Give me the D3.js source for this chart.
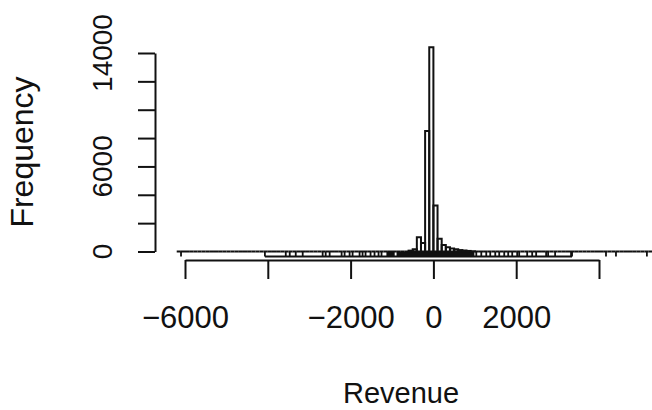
<!DOCTYPE html>
<html><head><meta charset="utf-8">
<script src="https://cdn.jsdelivr.net/npm/d3@7"></script>
<style>body{margin:0;background:#fff}svg{display:block}</style>
</head><body><svg id="c" width="652" height="410"></svg>
<script>
// histogram bin breaks (width 100) and non-zero bin counts
const breaks = d3.range(-6200, 5400, 100);
const binLowers = [-600, -500, -400, -300, -200, -100, 0, 100, 200, 300, 400, 500, 600, 700, 800, 900];
const binCounts = [60, 150, 1000, 600, 8500, 14400, 3250, 900, 450, 300, 220, 150, 100, 70, 40, 20];
// rug of individual revenue values (sparse tails)
const rugValues = [-6096, -4070, -3566, -3470, -3325, -3157, -2675, -2602, -2506, -2217, -2145, -2024, -1952,
  -1783, -1711, -1639, -1518, -1422, -1325, -1253, 1036, 1157, 1277, 1373, 1494, 1590, 1711, 1807, 1904,
  2024, 2072, 2265, 2386, 2482, 2723, 2771, 2940, 3325, 3349, 4169, 4410, 5157];
// dense rug runs (values packed too closely to separate)
const rugDense = [[-1135, -935], [-890, 990]];
const rugBand = [-4070, 3349];
const xTicks = [-6000, -4000, -2000, 0, 2000, 4000];
const xLabels = [-6000, -2000, 0, 2000];
const yTicks = [0, 2000, 4000, 6000, 8000, 10000, 12000, 14000];
const yLabels = [0, 6000, 14000];
const xTitle = "Revenue", yTitle = "Frequency";

const svg = d3.select("#c");
svg.append("rect").attr("width", 652).attr("height", 410).attr("fill", "#fff");
const x = d3.scaleLinear().domain([-6000, 4000]).range([185, 599]);
const y = d3.scaleLinear().domain([0, 14000]).range([251.5, 53]);
const font = "'Liberation Sans', Arial, Helvetica, sans-serif";
const ink = "#111";

const countMap = new Map(binLowers.map((b, i) => [b, binCounts[i]]));
const bins = breaks.slice(0, -1).map(b => ({ x0: b, x1: b + 100, n: countMap.get(b) || 0 }));

// rug
const rugLen = 5;
const rug = svg.append("g").attr("stroke", ink).attr("stroke-width", 1.8);
rug.selectAll("line.r").data(rugValues).join("line")
  .attr("x1", d => x(d)).attr("x2", d => x(d))
  .attr("y1", y(0)).attr("y2", y(0) + rugLen);
rug.append("line").attr("x1", x(rugBand[0])).attr("x2", x(rugBand[1]))
  .attr("y1", y(0) + rugLen).attr("y2", y(0) + rugLen);
svg.append("g").selectAll("rect").data(rugDense).join("rect")
  .attr("x", d => x(d[0])).attr("width", d => x(d[1]) - x(d[0]))
  .attr("y", y(0)).attr("height", rugLen).attr("fill", ink);

// histogram (paths so that empty bins still show as a baseline)
svg.append("g").selectAll("path").data(bins).join("path")
  .attr("d", d => `M${x(d.x0)},${y(0)}V${y(d.n)}H${x(d.x1)}V${y(0)}Z`)
  .attr("fill", "none").attr("stroke", ink).attr("stroke-width", 2).attr("stroke-linejoin", "miter");

// x axis
const xa = svg.append("g").attr("transform", "translate(0,260)")
  .call(d3.axisBottom(x).tickValues(xTicks).tickSize(19).tickSizeOuter(0).tickPadding(27)
    .tickFormat(d => xLabels.includes(d) ? (d < 0 ? "\u2212" + Math.abs(d) : String(d)) : ""));
xa.select(".domain").attr("stroke", ink).attr("stroke-width", 2);
xa.selectAll(".tick line").attr("stroke", ink).attr("stroke-width", 2);
xa.selectAll("text").attr("font-family", font).attr("font-size", 31).attr("fill", ink);

// y axis
const ya = svg.append("g").attr("transform", "translate(155,0)")
  .call(d3.axisLeft(y).tickValues(yTicks).tickSize(17).tickSizeOuter(0).tickFormat(""));
ya.select(".domain").attr("stroke", ink).attr("stroke-width", 2);
ya.selectAll(".tick line").attr("stroke", ink).attr("stroke-width", 2);
svg.append("g").selectAll("text").data(yLabels).join("text")
  .attr("transform", d => `translate(112,${y(d)}) rotate(-90)`)
  .attr("text-anchor", "middle").attr("font-family", font).attr("font-size", 28).attr("fill", ink)
  .text(d => String(d));

// titles
svg.append("text").attr("x", 401).attr("y", 403).attr("text-anchor", "middle")
  .attr("font-family", font).attr("font-size", 29).attr("fill", ink).text(xTitle);
svg.append("text").attr("transform", "translate(33,152) rotate(-90)").attr("text-anchor", "middle")
  .attr("font-family", font).attr("font-size", 32).attr("fill", ink).text(yTitle);
</script></body></html>
